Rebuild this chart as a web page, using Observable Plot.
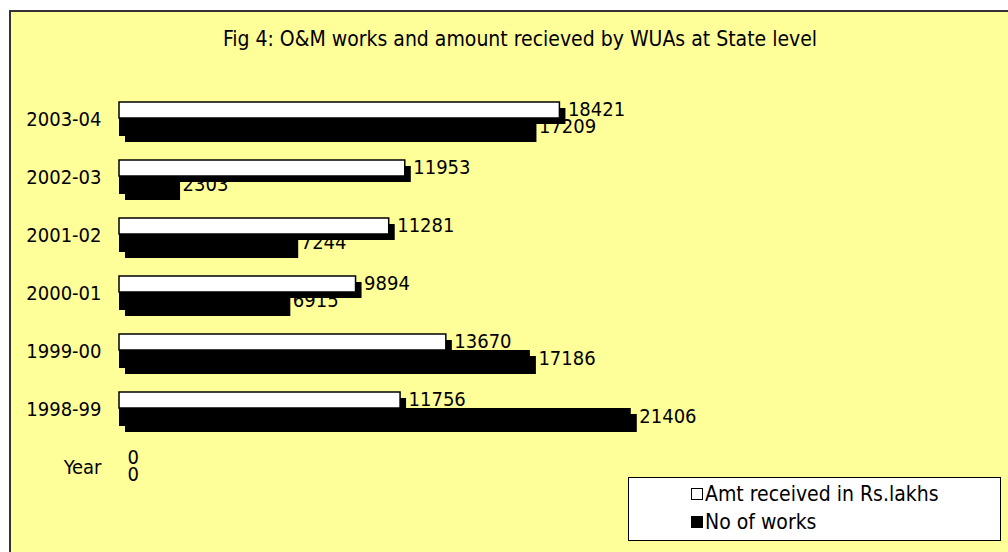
<!DOCTYPE html>
<html>
<head>
<meta charset="utf-8">
<script src="https://cdn.jsdelivr.net/npm/d3@7"></script>
<script src="https://cdn.jsdelivr.net/npm/@observablehq/plot@0.6"></script>
<style>
  html, body { margin: 0; padding: 0; background: #ffffff; width: 1008px; height: 552px; overflow: hidden; }
  #frame { position: absolute; left: 9px; top: 10px; width: 1020px; height: 560px;
           background: #FFFF99; border-left: 2px solid #333; border-top: 2px solid #333; }
  #title { position: absolute; left: 0; top: 27px; width: 1040px; text-align: center;
           font-family: "DejaVu Sans Condensed", "DejaVu Sans", sans-serif; font-size: 21px; color: #000; }
  #chart { position: absolute; left: 0; top: 0; }
  #legend { position: absolute; left: 628px; top: 477px; width: 373px; height: 64px; box-sizing: border-box;
            background: #fff; border: 1px solid #000;
            font-family: "DejaVu Sans Condensed", "DejaVu Sans", sans-serif; font-size: 21px; color: #000; }
  .item { position: absolute; left: 62px; display: flex; align-items: center; white-space: nowrap; line-height: 24px; }
  .sw { width: 10px; height: 10px; border: 1px solid #000; margin-right: 2px; }
</style>
</head>
<body>
<div id="frame"></div>
<div id="title">Fig 4: O&amp;M works and amount recieved by WUAs at State level</div>
<div id="chart"></div>
<div id="legend"></div>
<script>
const years = ["2003-04", "2002-03", "2001-02", "2000-01", "1999-00", "1998-99", "Year"];
const amount = [18421, 11953, 11281, 9894, 13670, 11756, 0];
const works = [17209, 2303, 7244, 6915, 17186, 21406, 0];
const seriesNames = ["Amt received in Rs.lakhs", "No of works"];
const seriesFill = ["#ffffff", "#000000"];

const amt = years.map((y, i) => ({year: y, value: amount[i]}));
const wrk = years.map((y, i) => ({year: y, value: works[i]}));
const amtBars = amt.filter(d => d.value > 0);
const wrkBars = wrk.filter(d => d.value > 0);

const font = '"DejaVu Sans Condensed", "DejaVu Sans", sans-serif';

const chart = Plot.plot({
  width: 1008,
  height: 552,
  marginLeft: 119,
  marginRight: 363,
  marginTop: 89,
  marginBottom: 56,
  style: {background: "transparent", fontFamily: font, fontSize: "20px", overflow: "visible", color: "#000"},
  x: {domain: [0, 22000], axis: null},
  y: {domain: years, padding: 0, label: null},
  marks: [
    Plot.text(amt, {x: "value", y: "year", text: d => String(d.value), dx: 8, dy: -10, textAnchor: "start", fontSize: 20, fill: "#000"}),
    Plot.text(wrk, {x: "value", y: "year", text: d => String(d.value), dx: 8, dy: 7, textAnchor: "start", fontSize: 20, fill: "#000"}),
    // depth (3-D side) of the bars
    Plot.barX(wrkBars, {x: "value", y: "year", insetTop: 28, insetBottom: 12, dx: 6, dy: 6, fill: "#000"}),
    Plot.barX(amtBars, {x: "value", y: "year", insetTop: 12, insetBottom: 30, dx: 6, dy: 6, fill: "#000"}),
    // front faces
    Plot.barX(wrkBars, {x: "value", y: "year", insetTop: 28, insetBottom: 12, fill: seriesFill[1]}),
    Plot.barX(amtBars, {x: "value", y: "year", insetTop: 12, insetBottom: 30, fill: seriesFill[0], stroke: "#000", strokeWidth: 1.5}),
    Plot.axisY({tickSize: 0, tickPadding: 18, fontSize: 20, label: null})
  ]
});
document.getElementById("chart").appendChild(chart);

const legend = document.getElementById("legend");
seriesNames.forEach((name, i) => {
  const item = document.createElement("div");
  item.className = "item";
  item.style.top = (i === 0 ? 4 : 32) + "px";
  const sw = document.createElement("span");
  sw.className = "sw";
  sw.style.background = seriesFill[i];
  const label = document.createElement("span");
  label.textContent = name;
  item.appendChild(sw);
  item.appendChild(label);
  legend.appendChild(item);
});
</script>
</body>
</html>
